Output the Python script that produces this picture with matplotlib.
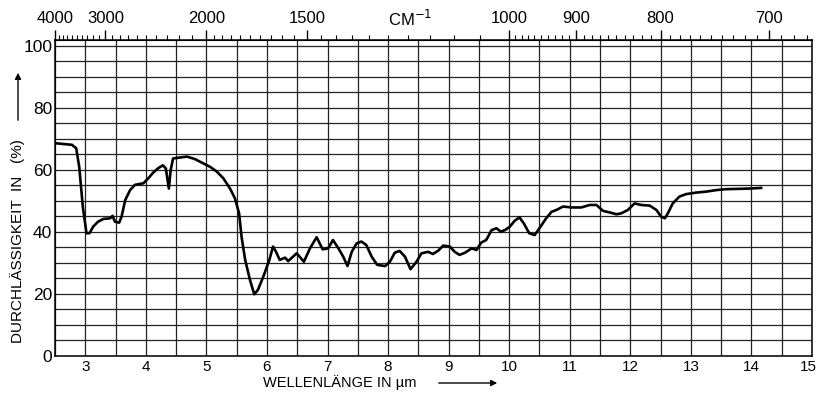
import numpy as np
import matplotlib.pyplot as plt
from matplotlib.patches import FancyArrowPatch
from matplotlib.transforms import ScaledTranslation

# IR spectrum
wavelength = [2.51, 2.78, 2.85, 2.90, 2.96, 3.02, 3.07, 3.13, 3.21, 3.30, 3.41, 3.45, 3.49,
              3.56, 3.60, 3.66, 3.74, 3.82, 3.96, 4.04, 4.12, 4.20, 4.28, 4.33, 4.38, 4.41,
              4.45, 4.56, 4.68, 4.81, 4.95, 5.06, 5.17, 5.28, 5.39, 5.47, 5.54, 5.58, 5.64,
              5.72, 5.79, 5.85, 5.94, 6.04, 6.10, 6.15, 6.21, 6.30, 6.35, 6.49, 6.54, 6.61,
              6.71, 6.82, 6.92, 7.01, 7.09, 7.18, 7.26, 7.33, 7.40, 7.48, 7.56, 7.64, 7.73,
              7.82, 7.95, 8.03, 8.11, 8.19, 8.28, 8.37, 8.47, 8.55, 8.66, 8.74, 8.83, 8.91,
              9.02, 9.10, 9.18, 9.27, 9.38, 9.46, 9.54, 9.62, 9.71, 9.79, 9.86, 9.93, 10.01,
              10.09, 10.17, 10.24, 10.33, 10.42, 10.50, 10.61, 10.70, 10.78, 10.89, 11.03,
              11.19, 11.33, 11.44, 11.55, 11.66, 11.77, 11.85, 11.96, 12.07, 12.18, 12.32,
              12.43, 12.51, 12.57, 12.62, 12.70, 12.81, 12.92, 13.09, 13.25, 13.42, 13.58,
              13.80, 13.97, 14.16]
transmission = [68.6, 68.1, 67.0, 61.0, 48.0, 39.6, 39.6, 41.7, 43.3, 44.2, 44.4, 45.2, 43.3,
                43.0, 45.0, 50.3, 53.5, 55.2, 55.7, 57.3, 59.1, 60.5, 61.5, 60.5, 54.0, 60.0,
                63.7, 64.0, 64.3, 63.5, 62.1, 61.0, 59.5, 57.3, 54.0, 50.9, 46.0, 38.5, 31.0,
                24.5, 19.9, 21.3, 25.6, 31.0, 35.3, 33.6, 31.0, 31.7, 30.6, 33.1, 32.0, 30.4,
                34.7, 38.3, 34.4, 34.7, 37.4, 34.7, 32.0, 29.0, 33.6, 36.3, 36.9, 35.8, 32.0,
                29.4, 29.0, 30.4, 33.3, 33.9, 32.0, 28.0, 30.4, 33.1, 33.6, 32.9, 34.0, 35.6,
                35.3, 33.6, 32.6, 33.3, 34.7, 34.2, 36.6, 37.4, 40.6, 41.2, 40.1, 40.6, 41.7,
                43.6, 44.7, 42.8, 39.6, 39.0, 41.2, 44.4, 46.5, 47.1, 48.2, 47.9,
                47.9, 48.7, 48.7, 46.8, 46.3, 45.7, 46.0, 47.1, 49.2, 48.7, 48.5,
                47.1, 44.9, 44.4, 46.0, 49.2, 51.4, 52.2, 52.7, 53.0, 53.5, 53.8,
                53.9, 54.0, 54.2]

x_ticks = list(range(3, 16))
y_ticks = [0, 20, 40, 60, 80, 100]
wn_labels = [4000, 3000, 2000, 1500, 1000, 900, 800, 700]

plt.rcParams['font.family'] = ['Liberation Sans', 'DejaVu Sans']

fig = plt.figure(figsize=(8.17, 4.05), dpi=100)
ax = fig.add_axes([55 / 817, 1 - 356 / 405, 757 / 817, 316 / 405])

ax.plot(wavelength, transmission, color='black', lw=1.9, solid_joinstyle='round')

ax.set_xlim(2.5, 15)
ax.set_ylim(0, 101.9)
ax.set_xticks(x_ticks)
ax.set_xticks(np.arange(2.5, 15.01, 0.5), minor=True)
ax.set_yticks(y_ticks)
ax.set_yticks(np.arange(0, 101, 5), minor=True)
ax.grid(True, which='both', color='#222222', lw=0.9)
ax.tick_params(which='both', length=0)
ax.tick_params(axis='x', labelsize=11, pad=3)
ax.tick_params(axis='y', labelsize=12.5, pad=2)
for s in ax.spines.values():
    s.set_linewidth(1.1)
# last label sits a little inside the right edge
last = ax.get_xticklabels()[-1]
last.set_transform(last.get_transform() + ScaledTranslation(-4 / 100, 0, fig.dpi_scale_trans))

# wavenumber scale along the top
def to_wn(x):
    with np.errstate(divide='ignore'):
        return 1e4 / np.asarray(x, dtype=float)

top = ax.secondary_xaxis('top', functions=(to_wn, to_wn))
top.set_xticks(wn_labels)
minor_wn = list(range(2100, 4000, 100)) + list(range(1050, 2000, 50)) + list(range(670, 1000, 10))
top.set_xticks([m for m in minor_wn if m not in wn_labels], minor=True)
top.tick_params(which='major', length=7, width=1, direction='out', labelsize=12, pad=3)
top.tick_params(which='minor', length=3.5, width=0.8, direction='out')
ax.text(8.36, 1.068, 'CM$^{-1}$', transform=ax.get_xaxis_transform(),
        ha='center', va='center', fontsize=12)

# axis titles with arrows
fig.text(18 / 817, 1 - 241 / 405, 'DURCHLÄSSIGKEIT  IN   (%)', rotation=90,
         ha='center', va='center', fontsize=11)
fig.add_artist(FancyArrowPatch(
    (18 / 817, 1 - 123 / 405), (18 / 817, 1 - 70 / 405), transform=fig.transFigure,
    arrowstyle='-|>', mutation_scale=9, color='black', lw=1))
fig.text(263 / 817, 1 - 383 / 405, 'WELLENLÄNGE IN µm', ha='left', va='center', fontsize=10.5)
fig.add_artist(FancyArrowPatch(
    (436 / 817, 1 - 383 / 405), (500 / 817, 1 - 383 / 405), transform=fig.transFigure,
    arrowstyle='-|>', mutation_scale=9, color='black', lw=1))

fig.savefig('out.png', dpi=100)
